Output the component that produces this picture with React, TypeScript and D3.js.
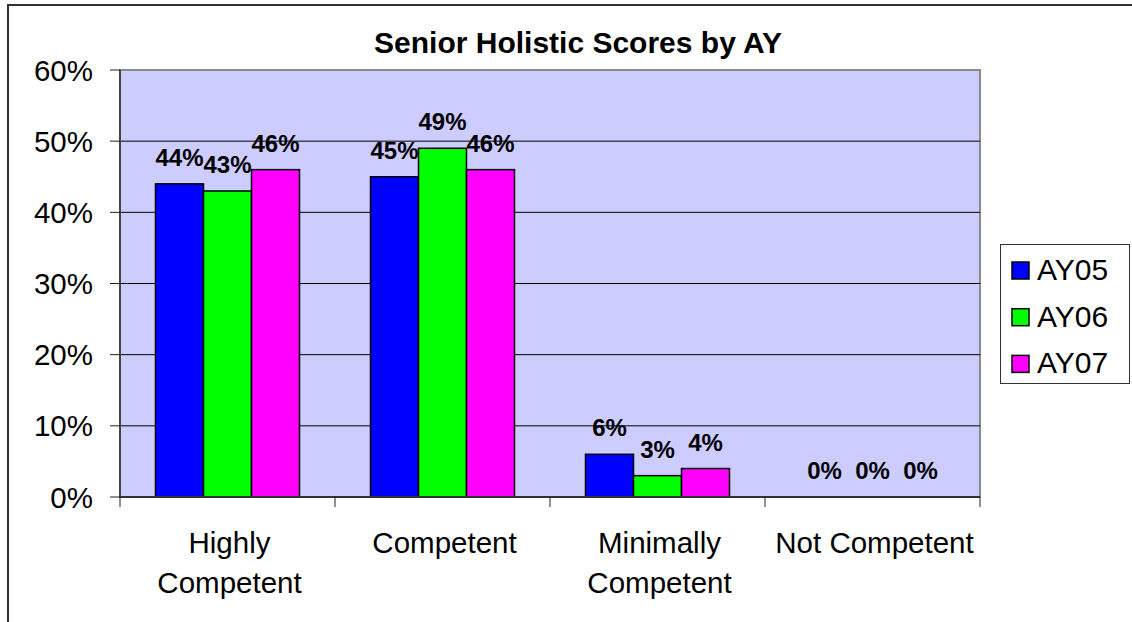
import React from "react";
import * as d3 from "d3";

const categories: string[][] = [
  ["Highly", "Competent"],
  ["Competent"],
  ["Minimally", "Competent"],
  ["Not Competent"],
];
const seriesNames = ["AY05", "AY06", "AY07"];
const seriesColors = ["#0000FF", "#00FF00", "#FF00FF"];
const ay05 = [0.44, 0.45, 0.06, 0.0];
const ay06 = [0.43, 0.49, 0.03, 0.0];
const ay07 = [0.46, 0.46, 0.04, 0.0];
const yTicks = [0, 0.1, 0.2, 0.3, 0.4, 0.5, 0.6];
const title = "Senior Holistic Scores by AY";

const W = 1132;
const H = 622;
const FONT = "'Liberation Sans', Arial, sans-serif";

export default function App() {
  const series = [ay05, ay06, ay07];
  const plot = { left: 120, right: 980, top: 70, bottom: 497 };
  const keys = categories.map((c) => c.join(" "));
  const x = d3.scaleBand<string>().domain(keys).range([plot.left, plot.right]).padding(0);
  const y = d3.scaleLinear().domain([0, 0.6]).range([plot.bottom, plot.top]);
  const barW = 48;
  const inner = d3
    .scaleBand<string>()
    .domain(seriesNames)
    .range([(x.bandwidth() - barW * 3) / 2, (x.bandwidth() + barW * 3) / 2])
    .padding(0);
  const fmt = d3.format(".0%");

  return (
    <svg
      width={W}
      height={H}
      style={{ position: "absolute", left: 0, top: 0, background: "#fff" }}
      fontFamily={FONT}
    >
      {/* chart area border (clipped on right/bottom) */}
      <path d={`M8,${H + 5} L8,5 L${W + 5},5`} fill="none" stroke="#333" strokeWidth={2} />

      {/* plot area */}
      <rect
        x={plot.left}
        y={plot.top}
        width={plot.right - plot.left}
        height={plot.bottom - plot.top}
        fill="#CCCCFF"
        stroke="#8a8a8a"
        strokeWidth={2}
      />

      {/* gridlines */}
      {yTicks
        .filter((t) => t > 0 && t < 0.6)
        .map((t) => (
          <line key={t} x1={plot.left} x2={plot.right} y1={y(t)} y2={y(t)} stroke="#000" strokeWidth={1} />
        ))}

      {/* y axis */}
      <line x1={plot.left} x2={plot.left} y1={plot.top} y2={plot.bottom + 1} stroke="#444" strokeWidth={2} />
      {yTicks.map((t) => (
        <g key={t}>
          <line x1={plot.left - 10} x2={plot.left} y1={y(t)} y2={y(t)} stroke="#222" strokeWidth={1} />
          <text
            x={93}
            y={y(t)}
            dy="0.36em"
            textAnchor="end"
            fontSize={29.5}
            fill="#000"
          >
            {fmt(t)}
          </text>
        </g>
      ))}

      {/* bars */}
      {keys.map((k, i) => (
        <g key={k} transform={`translate(${x(k)},0)`}>
          {series.map((s, j) => (
            <rect
              key={j}
              x={inner(seriesNames[j])}
              y={y(s[i])}
              width={inner.bandwidth()}
              height={y(0) - y(s[i])}
              fill={seriesColors[j]}
              stroke="#000"
              strokeWidth={1.5}
            />
          ))}
          {series.map((s, j) => (
            <text
              key={"l" + j}
              x={(inner(seriesNames[j]) as number) + inner.bandwidth() / 2}
              y={y(s[i]) - 18}
              textAnchor="middle"
              fontSize={24}
              fontWeight="bold"
              fill="#000"
            >
              {fmt(s[i])}
            </text>
          ))}
        </g>
      ))}

      {/* x axis */}
      <line x1={plot.left} x2={plot.right} y1={plot.bottom} y2={plot.bottom} stroke="#333" strokeWidth={2} />
      {[...keys.map((k) => x(k) as number), plot.right].map((p, i) => (
        <line key={i} x1={p} x2={p} y1={plot.bottom} y2={plot.bottom + 10} stroke="#222" strokeWidth={1} />
      ))}
      {keys.map((k, i) => (
        <text
          key={k}
          x={(x(k) as number) + x.bandwidth() / 2 + 2}
          y={553}
          textAnchor="middle"
          fontSize={29.5}
          fill="#000"
        >
          {categories[i].map((line, li) => (
            <tspan key={li} x={(x(k) as number) + x.bandwidth() / 2 + 2} dy={li === 0 ? 0 : 40}>
              {line}
            </tspan>
          ))}
        </text>
      ))}

      {/* title */}
      <text x={578} y={53} textAnchor="middle" fontSize={30} fontWeight="bold" fill="#000">
        {title}
      </text>

      {/* legend */}
      <rect x={1000.5} y={244.5} width={129} height={139} fill="#fff" stroke="#333" strokeWidth={1} />
      {seriesNames.map((n, j) => (
        <g key={n} transform={`translate(1012,${262 + j * 46.7})`}>
          <rect x={0} y={0} width={17} height={17} fill={seriesColors[j]} stroke="#000" strokeWidth={1.5} />
          <text x={25} y={18} fontSize={30} fill="#000">
            {n}
          </text>
        </g>
      ))}
    </svg>
  );
}
